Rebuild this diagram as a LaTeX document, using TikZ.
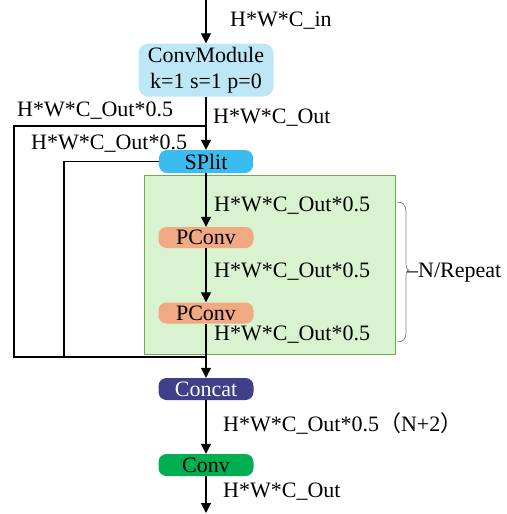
\documentclass[tikz,border=0pt]{standalone}
\usepackage{fontspec}
\setmainfont{Liberation Serif}
\newfontfamily\cjk{Noto Sans CJK SC}
\usetikzlibrary{arrows.meta}
\definecolor{cmfill}{RGB}{189,231,247}
\definecolor{spfill}{RGB}{58,189,238}
\definecolor{gbfill}{RGB}{217,242,208}
\definecolor{gbdraw}{RGB}{112,173,71}
\definecolor{pcfill}{RGB}{241,169,131}
\definecolor{ccfill}{RGB}{64,63,135}
\definecolor{cvfill}{RGB}{0,176,80}
\tikzset{
  every node/.style={font=\fontsize{22}{25.5}\selectfont, inner sep=0pt},
  blk/.style={rounded corners=8pt, minimum width=95pt, minimum height=22pt},
  lbl/.style={anchor=base west},
  conn/.style={line width=1.2pt},
  arr/.style={conn, -{Triangle[length=10pt,width=10pt]}},
}
\begin{document}
\begin{tikzpicture}[x=1pt,y=-1pt]
\useasboundingbox (0,0) rectangle (506,514);
% green repeat box
\node[draw=gbdraw, fill=gbfill, line width=1pt, minimum width=251pt, minimum height=179pt] (rep) at (269.5,264.5) {};
% blocks
\node[fill=cmfill, rounded corners=10pt, minimum width=135pt, minimum height=53pt, align=center] (cm) at (206,70) {ConvModule\\[0pt]k=1 s=1 p=0};
\node[blk, fill=spfill, minimum width=94pt, minimum height=23pt] (sp) at (206,161.5) {SPlit};
\node[blk, fill=pcfill, minimum height=21pt] (pc1) at (206,237.5) {PConv};
\node[blk, fill=pcfill, minimum height=21pt] (pc2) at (206,313) {PConv};
\node[blk, fill=ccfill, text=white] (cc) at (206,389) {Concat};
\node[blk, fill=cvfill] (cv) at (206,465) {Conv};
% coordinates
\coordinate (top) at (206,0);
\coordinate (bot) at (206,513);
\coordinate (br) at (206,126);
\coordinate (j) at (206,357);
\coordinate (l1a) at (14,126);
\coordinate (l1b) at (14,357);
\coordinate (l2a) at (64,161.5);
\coordinate (l2b) at (64,357);
% connectors
\draw[arr] (top) -- (cm.north);
\draw[arr] (cm.south) -- (sp.north);
\draw[arr] (sp.south) -- (pc1.north);
\draw[arr] (pc1.south) -- (pc2.north);
\draw[conn] (pc2.south) -- (j);
\draw[arr] (j) -- (cc.north);
\draw[arr] (cc.south) -- (cv.north);
\draw[arr] (cv.south) -- (bot);
\draw[conn] (br) -- (l1a) -- (l1b) -- (j);
\draw[conn] (sp.west) -- (l2a) -- (l2b) -- (j);
% labels
\node[lbl] (t1) at (230,27) {H*W*C\_in};
\node[lbl] (t2) at (213,123) {H*W*C\_Out};
\node[lbl] (t3) at (17,116) {H*W*C\_Out*0.5};
\node[lbl] (t4) at (31,149) {H*W*C\_Out*0.5};
\node[lbl] (t5) at (214,211) {H*W*C\_Out*0.5};
\node[lbl] (t6) at (214,277) {H*W*C\_Out*0.5};
\node[lbl] (t7) at (214,340) {H*W*C\_Out*0.5};
\node[lbl] (t8) at (223,431) {H*W*C\_Out*0.5{\cjk （}N+2{\cjk ）}};
\node[lbl] (t9) at (223,497) {H*W*C\_Out};
% brace
\draw[gray, line width=0.7pt] (397,202) .. controls (403,202) and (406,205) .. (406,212) -- (406,263) .. controls (406,267) and (407,270) .. (409,270)
  .. controls (407,270) and (406,273) .. (406,277) -- (406,333) .. controls (406,339) and (403,342) .. (397,342);
\node[lbl] (rp) at (407,277) {–N/Repeat};
\end{tikzpicture}
\end{document}
